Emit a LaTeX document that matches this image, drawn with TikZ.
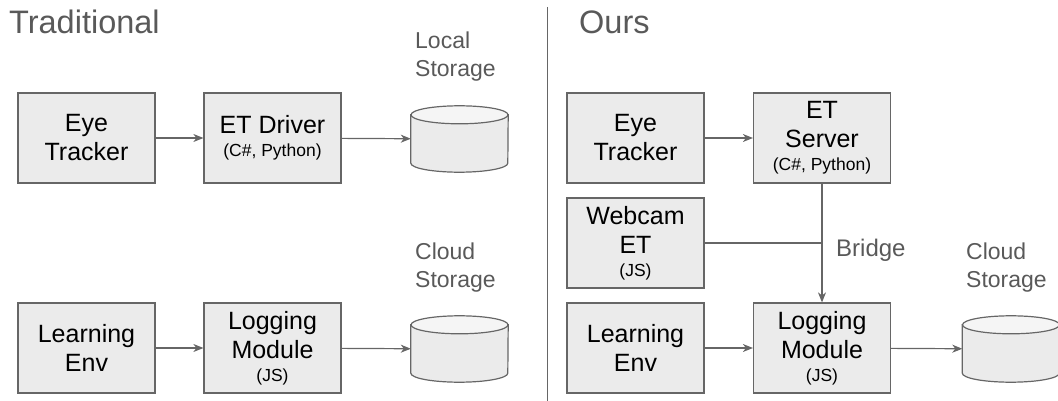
\documentclass[tikz,border=0pt]{standalone}
\usepackage{fontspec}
\setmainfont{Liberation Sans}
\usetikzlibrary{arrows.meta}
\definecolor{edgegray}{HTML}{666666}
\definecolor{boxgray}{HTML}{EBEBEB}
\definecolor{topgray}{HTML}{F5F5F5}
\definecolor{textgray}{HTML}{595959}
\newcommand{\langline}[1]{\\[-6pt]{\fontsize{17.5}{19}\selectfont #1}}
% cylinder drawn inside the frame of a named storage node
\newcommand{\drum}[1]{%
  \draw[cylline, fill=boxgray] ([yshift=-9pt]#1.north west) -- ([yshift=9pt]#1.south west)
    arc[start angle=180, end angle=360, x radius=48.5pt, y radius=9pt]
    -- ([yshift=-9pt]#1.north east) -- cycle;
  \draw[cylline, fill=topgray] ([yshift=-9pt]#1.north) ellipse[x radius=48.5pt, y radius=9pt];}

\begin{document}
\begin{tikzpicture}[x=1pt,y=-1pt,
    block/.style={draw=edgegray, line width=1.2pt, fill=boxgray, minimum width=137pt,
      minimum height=90pt, inner sep=0pt, align=center, font=\fontsize{25}{29}\selectfont,
      execute at begin node={\rule{0pt}{28.5pt}}},
    store/.style={minimum width=97pt, minimum height=66pt, inner sep=0pt},
    cylline/.style={draw=edgegray, line width=1.2pt},
    storetext/.style={anchor=base west, align=left, inner sep=0pt, text=textgray,
      font=\fontsize{23}{28}\selectfont},
    heading/.style={anchor=base west, inner sep=0pt, text=textgray, font=\fontsize{32.5}{36}\selectfont},
    flow/.style={draw=edgegray, line width=1.2pt, -{Stealth[length=10pt,width=8pt,inset=3pt]}}]
  \useasboundingbox (0,0) rectangle (1058,401);

  % traditional setup
  \node[heading] (trad) at (9,34) {Traditional};
  \node[block] (tEye) at (86.5,138) {Eye\\Tracker};
  \node[block] (tDrv) at (272.5,138) {ET Driver\langline{(C\#, Python)}};
  \node[store] (tLocal) at (459.5,139) {};
  \drum{tLocal}
  \node[storetext] (tLocalText) at (415,77) {Local\\Storage};
  \node[block] (tEnv) at (86.5,348) {Learning\\Env};
  \node[block] (tLog) at (272.5,348) {Logging\\Module\langline{(JS)}};
  \node[store] (tCloud) at (459.5,349) {};
  \drum{tCloud}
  \node[storetext] (tCloudText) at (415,287) {Cloud\\Storage};

  \draw[flow] (tEye) -- (tDrv);
  \draw[flow] (tDrv) -- (tLocal);
  \draw[flow] (tEnv) -- (tLog);
  \draw[flow] (tLog) -- (tCloud);

  % divider
  \draw[edgegray, line width=1pt] (547,7) -- (547,401);

  % our setup
  \node[heading] (ours) at (579,34) {Ours};
  \node[block] (oEye) at (635.5,138) {Eye\\Tracker};
  \node[block] (oSrv) at (822,138) {ET\\Server\langline{(C\#, Python)}};
  \node[block] (oCam) at (635.5,243) {Webcam\\ET\langline{(JS)}};
  \node[block] (oEnv) at (635.5,348) {Learning\\Env};
  \node[block] (oLog) at (822,348) {Logging\\Module\langline{(JS)}};
  \node[store] (oCloud) at (1011,349) {};
  \drum{oCloud}
  \node[storetext] (oCloudText) at (966,287) {Cloud\\Storage};
  \node[storetext, font=\fontsize{24}{28}\selectfont] (bridge) at (836,256) {Bridge};
  \coordinate (join) at (oCam.east -| oSrv.south);

  \draw[flow] (oEye) -- (oSrv);
  \draw[flow] (oSrv) -- (oLog);
  \draw[edgegray, line width=1.2pt] (oCam.east) -- (join);
  \draw[flow] (oEnv) -- (oLog);
  \draw[flow] (oLog) -- (oCloud);
\end{tikzpicture}
\end{document}
